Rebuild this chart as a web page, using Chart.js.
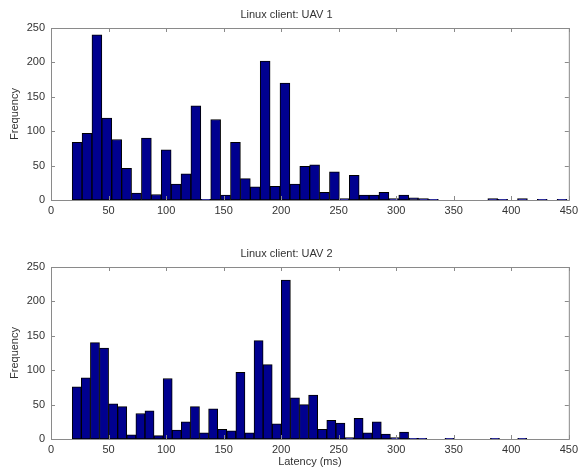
<!DOCTYPE html>
<html>
<head>
<meta charset="utf-8">
<script src="https://cdn.jsdelivr.net/npm/chart.js@4.4.0/dist/chart.umd.min.js"></script>
<style>
  html, body { margin: 0; padding: 0; background: #fff; }
  #wrap { width: 582px; height: 469px; position: relative; }
  canvas { display: block; }
</style>
</head>
<body>
<div id="wrap">
  <canvas id="chart1" width="582" height="234"></canvas>
  <canvas id="chart2" width="582" height="235"></canvas>
</div>
<script>
// bin centres (ms), 50 bins each
const binsUav1 = [22.7, 31.3, 39.9, 48.5, 57.1, 65.7, 74.3, 82.9, 91.5, 100.1,
  108.7, 117.3, 125.9, 134.5, 143.1, 151.7, 160.3, 168.9, 177.5, 186.1,
  194.7, 203.3, 211.9, 220.5, 229.1, 237.7, 246.3, 254.9, 263.5, 272.1,
  280.7, 289.3, 297.9, 306.5, 315.1, 323.7, 332.3, 340.9, 349.5, 358.1,
  366.7, 375.3, 383.9, 392.5, 401.1, 409.7, 418.3, 426.9, 435.5, 444.1];
const countsUav1 = [84, 97, 240, 119, 88, 46, 10, 90, 8, 73,
  23, 38, 137, 1, 117, 7, 84, 31, 19, 202,
  20, 170, 23, 49, 51, 11, 41, 2, 36, 7,
  7, 11, 2, 7, 3, 2, 1, 0, 0, 0,
  0, 0, 2, 1, 0, 2, 0, 1, 0, 1];

const binsUav2 = [22.4, 30.3, 38.2, 46.1, 54.0, 61.9, 69.8, 77.7, 85.6, 93.5,
  101.4, 109.3, 117.2, 125.1, 133.0, 140.9, 148.8, 156.7, 164.6, 172.5,
  180.4, 188.3, 196.2, 204.1, 212.0, 219.9, 227.8, 235.7, 243.6, 251.5,
  259.4, 267.3, 275.2, 283.1, 291.0, 298.9, 306.8, 314.7, 322.6, 330.5,
  338.4, 346.3, 354.2, 362.1, 370.0, 377.9, 385.8, 393.7, 401.6, 409.5];
const countsUav2 = [76, 89, 140, 132, 51, 47, 6, 37, 41, 5,
  88, 13, 25, 47, 9, 44, 14, 12, 97, 9,
  143, 108, 22, 231, 60, 50, 64, 14, 27, 23,
  2, 30, 9, 25, 7, 2, 10, 1, 1, 0,
  0, 1, 0, 0, 0, 0, 1, 0, 0, 1];

const titles = ['Linux client: UAV 1', 'Linux client: UAV 2'];
const xTitle = 'Latency (ms)';
const yTitle = 'Frequency';

const fontFamily = "'Liberation Sans', Arial, sans-serif";
const textColor = '#333';

// matlab style box with inward ticks
const boxPlugin = {
  id: 'box',
  afterDraw(chart) {
    const {ctx, chartArea: a, scales} = chart;
    ctx.save();
    ctx.strokeStyle = '#8a8a8a';
    ctx.lineWidth = 1;
    ctx.strokeRect(a.left + 0.5, a.top + 0.5, a.right - a.left, a.bottom - a.top);
    ctx.beginPath();
    scales.x.ticks.forEach(t => {
      const px = Math.round(scales.x.getPixelForValue(t.value)) + 0.5;
      ctx.moveTo(px, a.bottom); ctx.lineTo(px, a.bottom - 4);
      ctx.moveTo(px, a.top); ctx.lineTo(px, a.top + 4);
    });
    scales.y.ticks.forEach(t => {
      const py = Math.round(scales.y.getPixelForValue(t.value)) + 0.5;
      ctx.moveTo(a.left, py); ctx.lineTo(a.left + 4, py);
      ctx.moveTo(a.right, py); ctx.lineTo(a.right - 4, py);
    });
    ctx.stroke();
    ctx.restore();
  }
};

function makeChart(id, bins, counts, title, opts) {
  const ctx = document.getElementById(id).getContext('2d');
  return new Chart(ctx, {
    type: 'bar',
    data: {
      datasets: [{
        data: bins.map((x, i) => ({x: x, y: counts[i]})),
        backgroundColor: '#00008f',
        borderColor: '#000',
        borderWidth: 1,
        borderSkipped: false,
        barPercentage: 1.0,
        categoryPercentage: 1.0
      }]
    },
    options: {
      responsive: false,
      animation: false,
      layout: {
        autoPadding: false,
        padding: {left: 0, right: 9, top: 0, bottom: 0}
      },
      plugins: {
        legend: {display: false},
        tooltip: {enabled: false},
        title: {
          display: true,
          text: title,
          color: textColor,
          font: {family: fontFamily, size: 11, weight: 'normal'},
          padding: opts.titlePad
        }
      },
      scales: {
        x: {
          type: 'linear',
          min: 0,
          max: 450,
          offset: false,
          grid: {display: false, drawTicks: false, offset: false},
          border: {display: false},
          ticks: {
            stepSize: 50,
            autoSkip: false,
            maxRotation: 0,
            padding: 4,
            color: textColor,
            font: {family: fontFamily, size: 11}
          },
          title: {
            display: opts.showXTitle,
            text: xTitle,
            color: textColor,
            font: {family: fontFamily, size: 11},
            padding: {top: 0, bottom: 0.5}
          },
          afterFit(scale) { scale.height = opts.xHeight; }
        },
        y: {
          min: 0,
          max: 250,
          grid: {display: false, drawTicks: false},
          border: {display: false},
          ticks: {
            stepSize: 50,
            padding: 6,
            color: textColor,
            font: {family: fontFamily, size: 11}
          },
          title: {
            display: true,
            text: yTitle,
            color: textColor,
            font: {family: fontFamily, size: 11},
            padding: {top: 8.4, bottom: 0}
          },
          afterFit(scale) { scale.width = 51; }
        }
      }
    },
    plugins: [boxPlugin]
  });
}

makeChart('chart1', binsUav1, countsUav1, titles[0],
  {titlePad: {top: 8, bottom: 6.8}, xHeight: 34, showXTitle: false});
makeChart('chart2', binsUav2, countsUav2, titles[1],
  {titlePad: {top: 13.4, bottom: 6.4}, xHeight: 30, showXTitle: true});
</script>
</body>
</html>
